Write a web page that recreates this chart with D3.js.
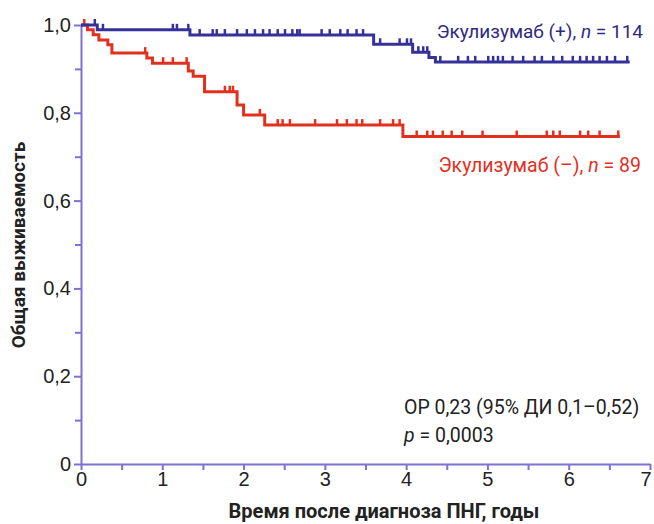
<!DOCTYPE html>
<html>
<head>
<meta charset="utf-8">
<script src="https://cdn.jsdelivr.net/npm/d3@7"></script>
<style>
  body { margin: 0; background: #fff; }
  svg { font-family: Roboto, "Noto Sans", sans-serif; }
</style>
</head>
<body>
<svg id="chart" width="654" height="524"></svg>
<script>
// Kaplan-Meier steps: time (years) and survival after the step
var blueTimes = [0, 0.2, 1.34, 3.6, 4.08, 4.28, 4.36];
var blueSurv  = [1.0, 0.989, 0.977, 0.956, 0.938, 0.926, 0.916];
var blueEnd = 6.75;
var blueCensor = [0.17, 0.27, 1.13, 1.18, 1.32, 1.46, 1.62, 1.67, 1.77, 1.92, 2.04, 2.14, 2.24,
  2.32, 2.42, 2.51, 2.60, 2.66, 2.69, 2.96, 3.06, 3.19, 3.28, 3.39, 3.47, 3.68, 3.92, 4.01,
  4.06, 4.15, 4.21, 4.26, 4.42, 4.64, 4.76, 4.85, 5.01, 5.07, 5.13, 5.19, 5.31, 5.44, 5.58,
  5.67, 5.81, 5.92, 6.05, 6.14, 6.22, 6.30, 6.38, 6.47, 6.57, 6.72];

var redTimes = [0, 0.08, 0.15, 0.22, 0.33, 0.38, 0.81, 0.88, 1.32, 1.38, 1.52, 1.92, 2.0, 2.26, 3.96];
var redSurv  = [1.0, 0.989, 0.978, 0.966, 0.955, 0.936, 0.925, 0.913, 0.895, 0.883, 0.848, 0.818, 0.795, 0.772, 0.746];
var redEnd = 6.63;
var redCensor = [0.04, 0.79, 1.01, 1.13, 1.30, 1.77, 1.83, 1.87, 2.20, 2.42, 2.48, 2.57, 2.88,
  3.15, 3.27, 3.39, 3.46, 3.68, 3.84, 3.92, 4.13, 4.26, 4.33, 4.45, 4.56, 4.69, 4.94, 5.36,
  5.73, 5.81, 5.89, 6.14, 6.24, 6.38, 6.61];

var xMajor = [0, 1, 2, 3, 4, 5, 6, 7];
var xMinor = [0.5, 1.5, 2.5, 3.5, 4.5, 5.5, 6.5];
var yMajor = [0, 0.2, 0.4, 0.6, 0.8, 1.0];
var yMinor = [0.1, 0.3, 0.5, 0.7, 0.9];

var axisColor = "#7d72d4";
var blue = "#35309a";
var red = "#e2301f";

var svg = d3.select("#chart");
var x = d3.scaleLinear().domain([0, 7]).range([81, 650]);
var y = d3.scaleLinear().domain([0, 1]).range([464, 25]);

var yFmt = function(d) { return d === 0 ? "0" : d3.format(".1f")(d).replace(".", ","); };
var xFmt = d3.format("d");

function styleAxis(g) {
  g.selectAll("path, line").attr("stroke", axisColor).attr("stroke-width", 2);
  g.selectAll("text").attr("fill", "#222").style("font-size", "20px");
}

// y axis
svg.append("g").attr("transform", "translate(81,0)")
  .call(d3.axisLeft(y).tickValues(yMinor).tickSize(6).tickSizeOuter(0).tickFormat(""))
  .call(styleAxis).select(".domain").remove();
svg.append("g").attr("transform", "translate(81,0)")
  .call(d3.axisLeft(y).tickValues(yMajor).tickSize(7).tickSizeOuter(0).tickPadding(3).tickFormat(yFmt))
  .call(styleAxis);

// x axis
svg.append("g").attr("transform", "translate(0,464)")
  .call(d3.axisBottom(x).tickValues(xMinor).tickSize(6).tickSizeOuter(0).tickFormat(""))
  .call(styleAxis).select(".domain").remove();
svg.append("g").attr("transform", "translate(0,464)")
  .call(d3.axisBottom(x).tickValues(xMajor).tickSize(6).tickSizeOuter(0).tickPadding(2).tickFormat(xFmt))
  .call(styleAxis)
  .selectAll(".tick text").attr("text-anchor", d => d === 7 ? "end" : "middle")
  .attr("dx", d => d === 7 ? "0.05em" : 0);

function survAt(times, surv, t) {
  var i = d3.bisectRight(times, t) - 1;
  return surv[Math.max(0, i)];
}

function drawCurve(times, surv, end, censor, color) {
  var pts = times.map(function(t, i) { return [t, surv[i]]; });
  pts.push([end, surv[surv.length - 1]]);
  var line = d3.line().x(d => x(d[0])).y(d => y(d[1])).curve(d3.curveStepAfter);
  svg.append("path").datum(pts)
    .attr("d", line).attr("fill", "none")
    .attr("stroke", color).attr("stroke-width", 3);
  svg.append("g").selectAll("line").data(censor).enter().append("line")
    .attr("x1", d => x(d)).attr("x2", d => x(d))
    .attr("y1", d => y(survAt(times, surv, d)))
    .attr("y2", d => y(survAt(times, surv, d)) - 6)
    .attr("stroke", color).attr("stroke-width", 2.5);
}

drawCurve(redTimes, redSurv, redEnd, redCensor, red);
drawCurve(blueTimes, blueSurv, blueEnd, blueCensor, blue);

// labels
var t1 = svg.append("text").attr("x", 643).attr("y", 38).attr("text-anchor", "end")
  .attr("fill", "#2e2a80").style("font-size", "19px");
t1.append("tspan").text("Экулизумаб (+), ");
t1.append("tspan").attr("font-style", "italic").text("n");
t1.append("tspan").text(" = 114");

var t2 = svg.append("text").attr("x", 641).attr("y", 172).attr("text-anchor", "end")
  .attr("fill", red).style("font-size", "19.5px");
t2.append("tspan").text("Экулизумаб (–), ");
t2.append("tspan").attr("font-style", "italic").text("n");
t2.append("tspan").text(" = 89");

svg.append("text").attr("x", 404).attr("y", 414).attr("fill", "#222")
  .style("font-size", "19.5px").text("ОР 0,23 (95% ДИ 0,1–0,52)");
var t3 = svg.append("text").attr("x", 404).attr("y", 442).attr("fill", "#222").style("font-size", "19.5px");
t3.append("tspan").attr("font-style", "italic").text("p");
t3.append("tspan").text(" = 0,0003");

svg.append("text").attr("x", 384).attr("y", 518).attr("text-anchor", "middle")
  .attr("fill", "#222").style("font-size", "20px").style("font-weight", "bold")
  .text("Время после диагноза ПНГ, годы");

svg.append("text").attr("transform", "translate(25,245) rotate(-90)").attr("text-anchor", "middle")
  .attr("fill", "#222").style("font-size", "19px").style("font-weight", "bold")
  .text("Общая выживаемость");
</script>
</body>
</html>
